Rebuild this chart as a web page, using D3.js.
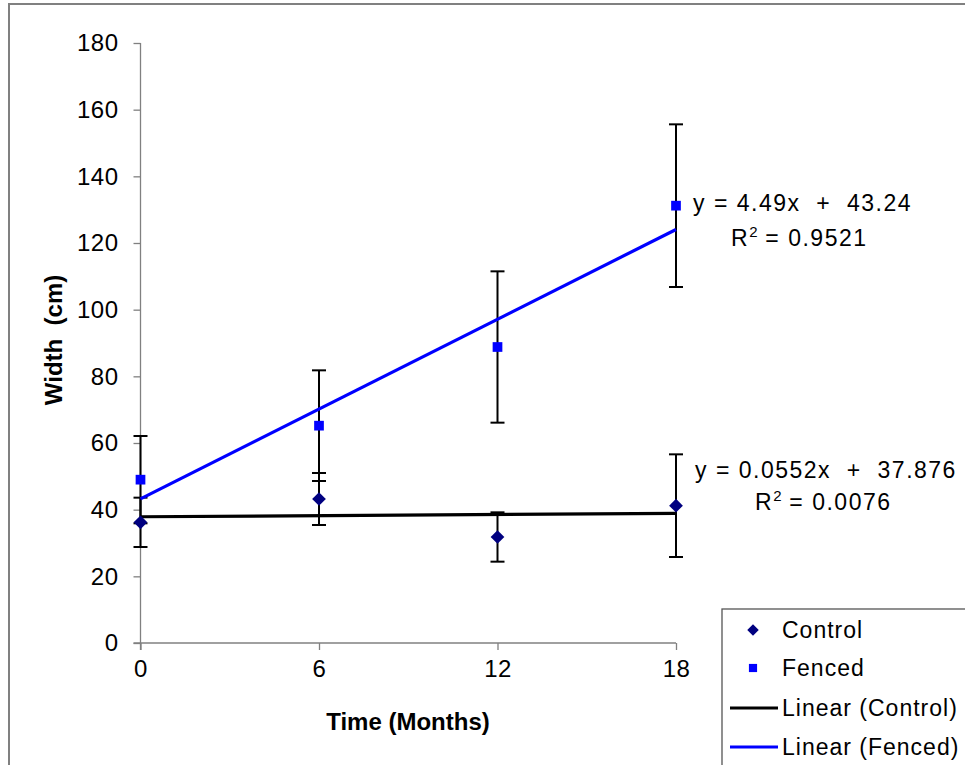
<!DOCTYPE html>
<html>
<head>
<meta charset="utf-8">
<script src="https://cdn.jsdelivr.net/npm/d3@7"></script>
<style>
  html, body { margin: 0; padding: 0; background: #fff; }
  svg text { font-family: "Liberation Sans", Arial, sans-serif; white-space: pre; }
</style>
</head>
<body>
<div id="chart"></div>
<script>
// --- DATA ---
const months = [0, 6, 12, 18];
const controlMean = [36.2, 43.2, 31.8, 41.2];
const controlErr  = [7.4, 7.8, 7.4, 15.4];
const fencedMean  = [49.0, 65.2, 88.8, 131.2];
const fencedErr   = [13.1, 16.6, 22.7, 24.4];
const controlFit = { slope: 0.0552, intercept: 37.876 };
const fencedFit  = { slope: 4.49, intercept: 43.24 };
const yTicks = [0, 20, 40, 60, 80, 100, 120, 140, 160, 180];
const xTicks = [0, 6, 12, 18];
const fitLabels = [
  ["y = 4.49x  +  43.24", "0.9521"],
  ["y = 0.0552x  +  37.876", "0.0076"]
];
const legendItems = ["Control", "Fenced", "Linear (Control)", "Linear (Fenced)"];

function drawChart() {
  const W = 965, H = 765;
  const svg = d3.select("#chart").append("svg").attr("width", W).attr("height", H);

  // outer chart frame (runs off the right / bottom edge)
  svg.append("rect").attr("x", 9).attr("y", 4).attr("width", 1000).attr("height", 1000)
    .attr("fill", "#fff").attr("stroke", "#808080").attr("stroke-width", 2);

  const x = d3.scaleLinear().domain([0, 18]).range([140.5, 676]);
  const y = d3.scaleLinear().domain([0, 180]).range([643, 43]);

  const axisCol = "#808080";

  // axes
  const gx = svg.append("g").attr("transform", `translate(0,${y(0)})`)
    .call(d3.axisBottom(x).tickValues(xTicks).tickSize(7).tickPadding(10));
  const gy = svg.append("g").attr("transform", `translate(${x(0)},0)`)
    .call(d3.axisLeft(y).tickValues(yTicks).tickSize(7).tickPadding(15));
  [gx, gy].forEach(g => {
    g.select(".domain").attr("stroke", axisCol).attr("stroke-width", 1.3);
    g.selectAll(".tick line").attr("stroke", axisCol).attr("stroke-width", 1.3);
    g.selectAll(".tick text").attr("fill", "#000")
      .style("font-family", "Liberation Sans, Arial, sans-serif")
      .style("font-size", "24px").style("letter-spacing", "0.5px");
  });
  // x axis line continues left to the y tick position
  gx.select(".domain").attr("d", `M${x(0) - 7},0H${x(18)}`);
  gy.select(".domain").attr("d", `M0,${y(180)}V${y(0) + 7}`);

  // axis titles
  svg.append("text").attr("x", 408).attr("y", 730).attr("text-anchor", "middle")
    .style("font-size", "24px").style("font-weight", "bold").text("Time (Months)");
  svg.append("text").attr("transform", `translate(62,340) rotate(-90)`).attr("text-anchor", "middle")
    .style("font-size", "24px").style("font-weight", "bold").text("Width  (cm)");

  const series = [
    { name: "Control", mean: controlMean, err: controlErr, fit: controlFit, color: "#000080", line: "#000000", shape: d3.symbolDiamond2, size: 120 },
    { name: "Fenced", mean: fencedMean, err: fencedErr, fit: fencedFit, color: "#0000ff", line: "#0000ff", shape: d3.symbolSquare2, size: 120 }
  ];

  // error bars
  series.forEach(s => {
    const g = svg.append("g");
    months.forEach((m, i) => {
      const lo = s.mean[i] - s.err[i], hi = s.mean[i] + s.err[i];
      g.append("line").attr("x1", x(m)).attr("x2", x(m)).attr("y1", y(lo)).attr("y2", y(hi))
        .attr("stroke", "#000").attr("stroke-width", 2);
      [lo, hi].forEach(v => g.append("line")
        .attr("x1", x(m) - 7).attr("x2", x(m) + 7).attr("y1", y(v)).attr("y2", y(v))
        .attr("stroke", "#000").attr("stroke-width", 2));
    });
  });

  // trend lines
  const line = d3.line().x(d => x(d[0])).y(d => y(d[1]));
  series.forEach(s => {
    const pts = [0, 18].map(t => [t, s.fit.intercept + s.fit.slope * t]);
    svg.append("path").datum(pts).attr("d", line).attr("fill", "none")
      .attr("stroke", s.line).attr("stroke-width", 3.2);
  });

  // markers
  series.forEach(s => {
    svg.append("g").selectAll("path").data(months).enter().append("path")
      .attr("transform", (m, i) => `translate(${x(m)},${y(s.mean[i])})`)
      .attr("d", d3.symbol().type(s.shape).size(s.size))
      .attr("fill", s.color);
  });

  // regression labels
  const fitPos = [
    { x: x(18) + 17, y: 211, x2: x(18) + 55, y2: 246 },
    { x: x(18) + 19, y: 478, x2: x(18) + 79, y2: 510 }
  ];
  fitLabels.forEach((lab, i) => {
    const p = fitPos[i];
    svg.append("text").attr("x", p.x).attr("y", p.y).style("font-size", "23px")
      .style("letter-spacing", "1.5px").text(lab[0]);
    const t = svg.append("text").attr("x", p.x2).attr("y", p.y2).style("font-size", "23px")
      .style("letter-spacing", "1.5px");
    t.append("tspan").text("R");
    t.append("tspan").attr("dy", -9).style("font-size", "15px").style("letter-spacing", "0px").text("2");
    t.append("tspan").attr("dy", 9).text(" = " + lab[1]);
  });

  // legend
  const lg = svg.append("g").attr("transform", "translate(722,609)");
  lg.append("rect").attr("x", 0).attr("y", 0).attr("width", 400).attr("height", 300)
    .attr("fill", "#fff").attr("stroke", "#555").attr("stroke-width", 1.3);
  const rowY = [21, 59, 99, 138];
  legendItems.forEach((name, i) => {
    const ry = rowY[i];
    if (i < 2) {
      const s = series[i];
      lg.append("path").attr("transform", `translate(31,${ry})`)
        .attr("d", d3.symbol().type(s.shape).size(i === 0 ? 85 : 85)).attr("fill", s.color);
    } else {
      lg.append("line").attr("x1", 8).attr("x2", 56).attr("y1", ry).attr("y2", ry)
        .attr("stroke", series[i - 2].line).attr("stroke-width", 3);
    }
    lg.append("text").attr("x", 60).attr("y", ry + 8).style("font-size", "23px")
      .style("letter-spacing", "1px").text(name);
  });
}

drawChart();
</script>
</body>
</html>
